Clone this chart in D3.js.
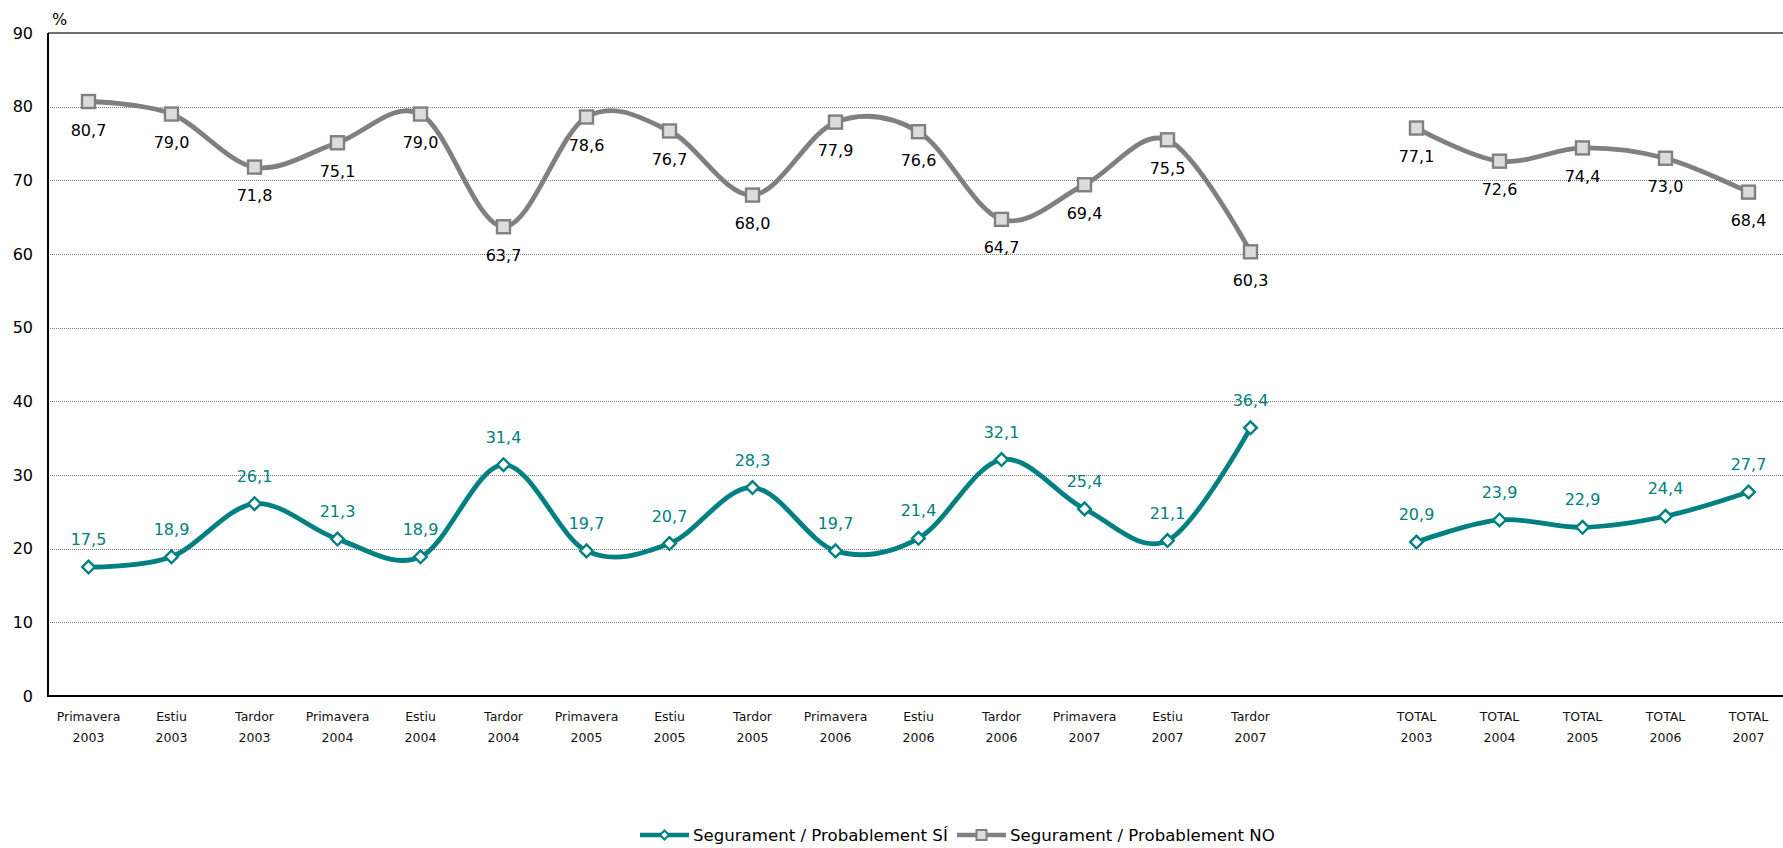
<!DOCTYPE html>
<html><head><meta charset="utf-8">
<script src="https://cdn.jsdelivr.net/npm/d3@7/dist/d3.min.js"></script>
<style>
html,body{margin:0;padding:0;background:#fff;overflow:hidden;}
svg{display:block;font-family:"DejaVu Sans",Verdana,sans-serif;}
</style></head>
<body>
<svg id="chart" width="1783" height="848"></svg>
<script>
// ---- data ----
const categories = [
  "Primavera|2003","Estiu|2003","Tardor|2003",
  "Primavera|2004","Estiu|2004","Tardor|2004",
  "Primavera|2005","Estiu|2005","Tardor|2005",
  "Primavera|2006","Estiu|2006","Tardor|2006",
  "Primavera|2007","Estiu|2007","Tardor|2007",
  "",
  "TOTAL|2003","TOTAL|2004","TOTAL|2005","TOTAL|2006","TOTAL|2007"
];
const seriesNames = ["Segurament / Probablement SÍ","Segurament / Probablement NO"];
const valuesSI = [17.5,18.9,26.1,21.3,18.9,31.4,19.7,20.7,28.3,19.7,21.4,32.1,25.4,21.1,36.4,null,20.9,23.9,22.9,24.4,27.7];
const valuesNO = [80.7,79.0,71.8,75.1,79.0,63.7,78.6,76.7,68.0,77.9,76.6,64.7,69.4,75.5,60.3,null,77.1,72.6,74.4,73.0,68.4];
const yTicks = [0,10,20,30,40,50,60,70,80,90];

// ---- layout ----
const svg = d3.select("#chart");
const plotLeft = 48, plotRight = 1783, plotTop = 33, plotBottom = 696;
const step = 83.0;
const x = d3.scaleBand().domain(d3.range(categories.length))
  .range([47, 47 + step*categories.length]).paddingInner(0).paddingOuter(0);
const cx = i => x(i) + x.bandwidth()/2;
const y = d3.scaleLinear().domain([0,90]).range([plotBottom, plotTop]);

const TEAL = "#008080", GREY = "#808080";

// gridlines
svg.append("g").selectAll("line").data(yTicks.filter(t => t>0 && t<90)).join("line")
  .attr("x1", plotLeft).attr("x2", plotRight).attr("y1", d=>Math.round(y(d))+0.5).attr("y2", d=>Math.round(y(d))+0.5)
  .attr("stroke", "#7a7a7a").attr("stroke-width", 1).attr("stroke-dasharray", "1,1");
svg.append("line").attr("x1", plotLeft).attr("x2", plotRight).attr("y1", y(90)).attr("y2", y(90))
  .attr("stroke", "#6e6e6e").attr("stroke-width", 2);

// y axis
const yAxis = d3.axisLeft(y).tickValues(yTicks).tickSize(0).tickPadding(15);
const gy = svg.append("g").attr("transform", `translate(${plotLeft},0)`).call(yAxis);
gy.select(".domain").remove();
gy.selectAll("text").attr("font-size", 16).attr("fill", "#000")
  .attr("font-family", "DejaVu Sans, Verdana, sans-serif");
svg.append("line").attr("x1", plotLeft).attr("x2", plotLeft).attr("y1", plotTop).attr("y2", plotBottom+1)
  .attr("stroke", "#000").attr("stroke-width", 2);
svg.append("line").attr("x1", plotLeft).attr("x2", plotRight).attr("y1", plotBottom).attr("y2", plotBottom)
  .attr("stroke", "#000").attr("stroke-width", 2);
svg.append("text").attr("x", 52).attr("y", 25).attr("font-size", 16).text("%");

// x axis labels
const xAxis = d3.axisBottom(x).tickSize(0).tickFormat(() => "");
const gx = svg.append("g").attr("transform", `translate(0,${plotBottom})`).call(xAxis);
gx.select(".domain").remove();
gx.selectAll(".tick").each(function(d){
  const parts = categories[d].split("|");
  const t = d3.select(this).select("text").attr("font-size", 12.5).attr("fill", "#111")
    .attr("font-family", "DejaVu Sans, Verdana, sans-serif").attr("y", 0).attr("dy", null);
  parts.forEach((p, k) => {
    if (!p) return;
    t.append("tspan").attr("x", 0).attr("y", 25 + k*21).text(p);
  });
});

// lines
function segments(vals){
  const segs = []; let cur = [];
  vals.forEach((v,i) => { if (v==null){ if(cur.length) segs.push(cur); cur=[]; } else cur.push([i,v]); });
  if (cur.length) segs.push(cur);
  return segs;
}
const line = d3.line().x(d=>cx(d[0])).y(d=>y(d[1])).curve(d3.curveCardinal.tension(0));
const fmt = v => v.toFixed(1).replace(".", ",");

function drawSeries(vals, color, marker, labelColor, labelDy){
  const g = svg.append("g");
  g.selectAll("path.l").data(segments(vals)).join("path").attr("class","l")
    .attr("d", line).attr("fill","none").attr("stroke", color).attr("stroke-width", 4.8)
    .attr("stroke-linejoin","round").attr("stroke-linecap","round");
  const pts = vals.map((v,i)=>[i,v]).filter(d=>d[1]!=null);
  if (marker === "diamond") {
    g.selectAll("path.m").data(pts).join("path").attr("class","m")
      .attr("d", d3.symbol(d3.symbolSquare, 80))
      .attr("transform", d=>`translate(${cx(d[0])},${y(d[1])}) rotate(45)`)
      .attr("fill","#fff").attr("stroke", color).attr("stroke-width", 2.4);
  } else {
    g.selectAll("rect.m").data(pts).join("rect").attr("class","m")
      .attr("x", d=>cx(d[0])-6.5).attr("y", d=>y(d[1])-6.5).attr("width",13).attr("height",13)
      .attr("fill","#dcdcdc").attr("stroke", color).attr("stroke-width", 2.4);
  }
  g.selectAll("text").data(pts).join("text")
    .attr("x", d=>cx(d[0])).attr("y", d=>y(d[1]) + labelDy)
    .attr("text-anchor","middle").attr("font-size",16).attr("fill", labelColor)
    .text(d=>fmt(d[1]));
}
drawSeries(valuesNO, GREY, "square", "#000", 34);
drawSeries(valuesSI, TEAL, "diamond", TEAL, -22);

// legend
const leg = svg.append("g");
const legItems = [
  {name: seriesNames[0], color: TEAL, marker: "diamond", x0: 640},
  {name: seriesNames[1], color: GREY, marker: "square", x0: 957}
];
legItems.forEach(it => {
  const ly = 835;
  leg.append("line").attr("x1", it.x0).attr("x2", it.x0+49).attr("y1", ly).attr("y2", ly)
    .attr("stroke", it.color).attr("stroke-width", 4.5);
  if (it.marker === "diamond") {
    leg.append("path").attr("d", d3.symbol(d3.symbolSquare, 40))
      .attr("transform", `translate(${it.x0+24.5},${ly}) rotate(45)`)
      .attr("fill","#fff").attr("stroke", it.color).attr("stroke-width", 2);
  } else {
    leg.append("rect").attr("x", it.x0+24.5-5).attr("y", ly-5).attr("width",10).attr("height",10)
      .attr("fill","#dcdcdc").attr("stroke", it.color).attr("stroke-width", 2);
  }
  leg.append("text").attr("x", it.x0+53).attr("y", ly+6).attr("font-size",16.6).attr("fill","#000")
    .text(it.name);
});
</script>
</body></html>
